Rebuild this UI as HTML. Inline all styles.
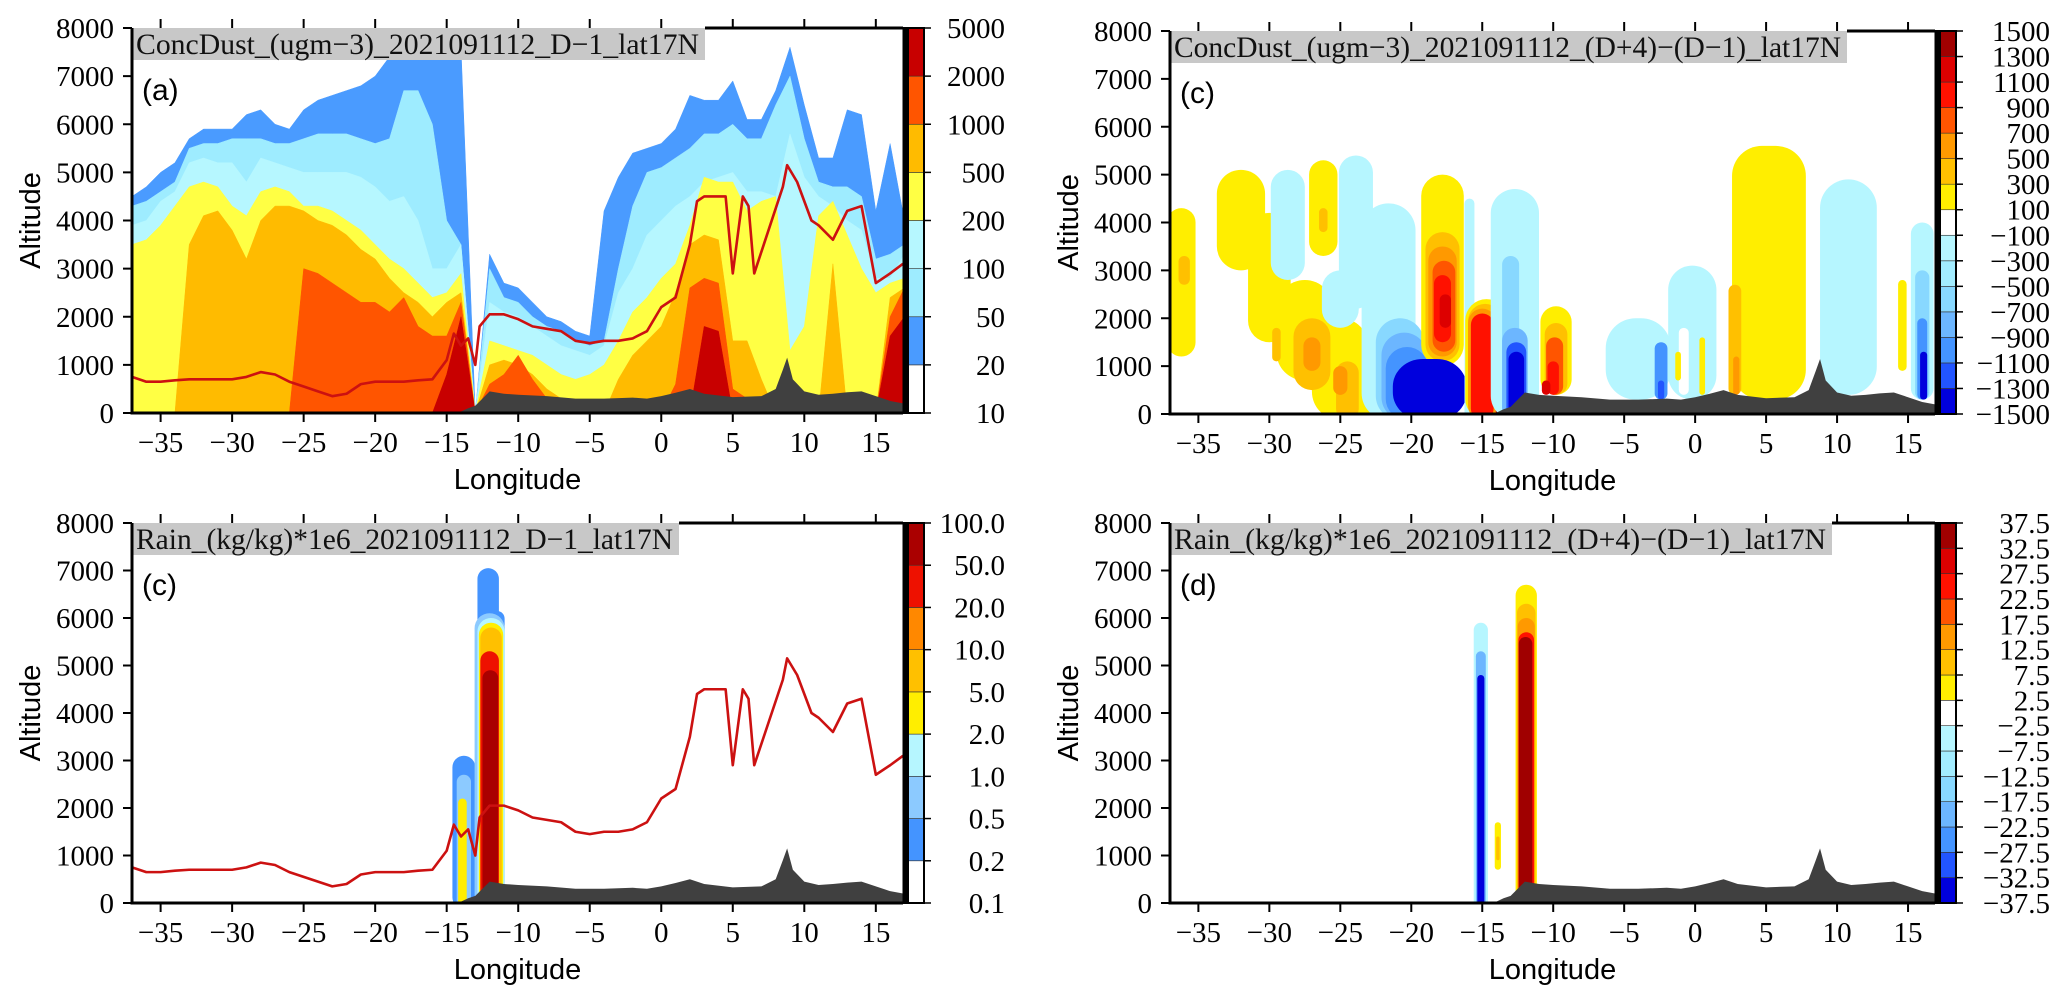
<!DOCTYPE html>
<html><head><meta charset="utf-8"><style>
html,body{margin:0;padding:0;background:#fff;}
svg{display:block;}
text{font-family:"Liberation Serif",serif;}
.sans{font-family:"Liberation Sans",sans-serif;}
</style></head><body>
<svg id="chart" width="2067" height="1006" viewBox="0 0 2067 1006" xmlns="http://www.w3.org/2000/svg"></svg>
<script>
// ---------------- DATA ----------------
const lonGrid=[-37,-36,-35,-34,-33,-32,-31,-30,-29,-28,-27,-26,-25,-24,-23,-22,-21,-20,-19,-18,-17,-16,-15,-14,-13,-12,-11,-10,-9,-8,-7,-6,-5,-4,-3,-2,-1,0,1,2,3,4,5,6,7,8,9,10,11,12,13,14,15,16,17];
// panel (a) dust: top altitude of region exceeding each threshold
const dustLevels=[20,50,100,200,500,1000,2000];
const dustTop20=[4500,4700,5000,5200,5700,5900,5900,5900,6200,6300,6000,5900,6300,6500,6600,6700,6800,7000,7400,7600,7600,7600,7600,7600,0,3300,2700,2600,2300,2000,1900,1700,1600,4200,4900,5400,5500,5600,5900,6600,6500,6500,6900,6100,6100,6700,7600,6400,5300,5300,6300,6200,4200,5600,4000];
const dustTop50=[4300,4400,4600,4800,5500,5600,5600,5700,5700,5700,5600,5600,5700,5800,5800,5800,5700,5600,5700,6700,6700,6000,4000,3500,0,3000,2400,2300,2000,1800,1700,1500,1400,1500,3000,4300,5000,5100,5300,5500,5800,5800,6000,5700,5700,6400,7000,5700,4800,4700,4700,4500,3200,3300,3500];
const dustTop100=[3900,4000,4400,4600,5200,5300,5200,5200,4800,5300,5200,5100,5000,5000,5000,5000,4900,4700,4400,4500,4000,3000,3000,3500,0,2300,2100,2000,1800,1600,1400,1300,1200,1400,2500,3000,3700,4000,4300,4500,4800,4900,5000,4600,4600,4500,5800,4900,4500,4300,4000,3800,2800,2800,3300];
const dustTop200=[3500,3600,3900,4300,4700,4800,4700,4300,4100,4600,4700,4600,4300,4300,4200,4000,3800,3500,3200,3000,2700,2400,2500,2900,0,1500,1400,1300,1200,1000,800,700,800,1000,1500,2100,2400,2800,3100,3900,4900,4800,4800,4200,4400,4500,1300,1800,4100,4400,3700,3000,2500,2700,2800];
const dustTop500=[0,0,0,0,3500,4100,4200,3800,3200,4000,4300,4300,4200,4000,3900,3700,3400,3200,2800,2500,2300,2000,2300,2500,0,1000,1100,1000,800,500,300,0,0,0,700,1200,1500,1800,2500,3500,3700,3600,1500,1500,700,0,0,0,0,3100,0,0,0,2400,2600];
const dustTop1000=[0,0,0,0,0,0,0,0,0,0,0,0,3000,2900,2700,2500,2300,2300,2100,2400,1800,1600,1600,2300,0,600,800,1200,700,300,0,0,0,0,0,0,0,0,600,2600,2800,2700,500,300,0,0,0,0,0,0,0,0,0,2000,2600];
const dustTop2000=[0,0,0,0,0,0,0,0,0,0,0,0,0,0,0,0,0,0,0,0,0,0,800,2000,0,300,0,0,200,0,0,0,0,0,0,0,0,0,0,0,1800,1700,0,0,0,0,0,0,0,0,0,0,0,1600,2000];
const dustBandColors=['#4a9bff','#9eecff','#b6f7ff','#ffff44','#ffbb00','#ff5500','#c80000'];
// terrain
const terrLon=[-37,-15,-14,-13.5,-13,-12.5,-12,-11,-10,-8,-6,-4,-2,-1,0,1,2,3,5,7,8,8.5,8.8,9.2,10,11,12,13,14,15,16,16.9];
const terrAlt=[0,0,30,100,150,300,450,400,380,350,300,300,320,300,350,420,500,400,330,350,500,900,1150,700,450,380,400,430,450,350,250,200];
// boundary layer height (red line)
const blhLon=[-37,-36,-35,-34,-33,-32,-31,-30,-29,-28,-27,-26,-25,-24,-23,-22,-21,-20,-19,-18,-17,-16,-15,-14.5,-14,-13.5,-13,-12.7,-12,-11,-10,-9,-8,-7,-6,-5,-4,-3,-2,-1,0,1,2,2.5,3,4,4.5,5,5.7,6.1,6.5,8.5,8.8,9.5,10.5,11,12,13,14,15,16,16.9];
const blhAlt=[750,650,650,680,700,700,700,700,750,850,800,650,550,450,350,400,600,650,650,650,680,700,1100,1650,1400,1550,1000,1800,2050,2050,1950,1800,1750,1700,1500,1450,1500,1500,1550,1700,2200,2400,3500,4400,4500,4500,4500,2900,4500,4300,2900,4700,5150,4800,4000,3900,3600,4200,4300,2700,2900,3100];
// panel (c) dust difference blobs: centre lon, half-width (deg), bottom alt, top alt, value
const diffLon=[-36.2,-32,-30,-27.5,-25,-23.5,-36,-29.5,-27,-24.5,-27,-25,-28.7,-26.2,-26.2,-23.9,-25,-21.6,-20.8,-20.5,-20.3,-17.8,-17.8,-17.8,-17.7,-17.8,-17.6,-18.7,-15.9,-14.7,-14.8,-15,-15,-13.7,-12.7,-13,-12.7,-12.6,-12.6,-9.8,-9.8,-9.9,-10,-10.5,-4,-0.2,-2.4,-2.4,-0.8,-1.2,0.5,5.2,2.8,2.9,10.8,14.6,16,16,16,16.1];
const diffHW=[1.0,1.7,1.5,2.0,2.0,1.0,0.4,0.3,1.3,0.8,0.6,0.5,1.2,1.0,0.3,1.2,1.3,1.9,1.7,1.6,1.5,1.5,1.2,1.0,0.8,0.6,0.4,2.6,0.35,1.5,1.2,1.0,0.8,0.35,1.7,0.6,0.9,0.7,0.55,1.1,0.8,0.6,0.4,0.3,2.3,1.7,0.45,0.22,0.35,0.2,0.2,2.6,0.45,0.22,2.0,0.3,0.8,0.5,0.35,0.25];
const diffBot=[1200,3000,1500,700,0,0,2700,1100,500,0,900,400,2800,3300,3800,2200,1800,0,0,0,0,1000,1100,1200,1300,1500,1800,0,0,0,0,0,0,0,0,0,0,0,0,400,400,400,400,400,300,300,300,300,400,700,400,300,400,400,400,900,300,300,300,300];
const diffTop=[4300,5100,4200,2800,2000,1500,3300,1800,2000,1100,1600,1000,5100,5300,4300,5400,3000,4400,2000,1700,1400,5000,3800,3500,3200,2900,2500,1150,4500,2400,2300,2200,2100,2200,4700,3300,1800,1500,1300,2250,1900,1600,1100,700,2000,3100,1500,700,1800,1300,1600,5600,2700,1200,4900,2800,4000,3000,2000,1300];
const diffVal=[200,200,200,200,200,200,400,400,400,400,600,600,-200,200,400,-200,-200,-200,-600,-800,-1000,200,400,600,800,1000,1200,-1400,-200,200,400,600,1000,1400,-200,-600,-800,-1200,-1400,200,400,800,1000,1200,-200,-200,-1000,-1200,0,200,200,200,400,600,-200,200,-200,-600,-1000,-1400];
const diffLevels=[-1500,-1300,-1100,-900,-700,-500,-300,-100,100,300,500,700,900,1100,1300,1500];
const diffColors=['#0000dd','#2255ff','#4494ff','#6cb6ff','#88d8ff','#a2ecff','#b6f6ff','#ffffff','#ffee00','#ffc000','#ff9900','#ff5500','#ff1100','#dd0000','#a00000'];
// panel (c) rain columns
const rainLon=[-13.8,-13.8,-13.9,-12.1,-11.5,-12.0,-11.9,-11.9,-11.9,-12.0,-11.95];
const rainHW=[0.8,0.5,0.3,0.75,0.55,1.05,0.95,0.85,0.75,0.65,0.55];
const rainBot=[0,0,0,0,0,0,0,0,0,0,0];
const rainTop=[3100,2700,2200,7050,6150,6100,6000,5900,5800,5300,4900];
const rainVal=[0.3,0.7,3,0.3,0.3,0.7,1.5,3,7,30,70];
const rainLevels=[0.1,0.2,0.5,1.0,2.0,5.0,10.0,20.0,50.0,100.0];
const rainColors=['#ffffff','#4494ff','#8ccaff','#b6f6ff','#ffee00','#ffc000','#ff8800','#ee1100','#aa0000'];
// panel (d) rain difference columns
const rdLon=[-15.1,-15.1,-15.1,-13.9,-13.9,-11.9,-11.9,-11.9,-11.9,-11.95];
const rdHW=[0.5,0.35,0.25,0.22,0.12,0.75,0.65,0.6,0.55,0.48];
const rdBot=[0,0,0,700,900,0,0,0,0,0];
const rdTop=[5900,5300,4800,1700,1400,6700,6300,6000,5700,5600];
const rdVal=[-5,-20,-35,5,10,5,10,15,25,35];
const rdLevels=[-37.5,-32.5,-27.5,-22.5,-17.5,-12.5,-7.5,-2.5,2.5,7.5,12.5,17.5,22.5,27.5,32.5,37.5];
const altTicks=[0,1000,2000,3000,4000,5000,6000,7000,8000];
const lonTicks=[-35,-30,-25,-20,-15,-10,-5,0,5,10,15];
const dustCbLabels=['10','20','50','100','200','500','1000','2000','5000'];
const dustCbColors=['#ffffff','#4a9bff','#9eecff','#b6f7ff','#ffff44','#ffbb00','#ff5500','#c80000'];

// ---------------- RENDER ----------------
const NS='http://www.w3.org/2000/svg';
const svg=document.getElementById('chart');
function mk(tag,attrs,parent){const e=document.createElementNS(NS,tag);for(const k in attrs)e.setAttribute(k,attrs[k]);(parent||svg).appendChild(e);return e;}
const LON0=-37, LON1=16.9;
function mkX(P){return lon=>P.x0+(lon-LON0)/(LON1-LON0)*(P.x1-P.x0);}
function mkY(P){return alt=>P.y1-alt/8000*(P.y1-P.y0);}
function colorFor(v,levels,colors){for(let i=0;i<colors.length;i++){if(v>=levels[i]&&v<levels[i+1])return colors[i];}return v<levels[0]?colors[0]:colors[colors.length-1];}

const panels={
 a:{x0:132,x1:903,y0:28,y1:413},
 c:{x0:1170,x1:1935,y0:31,y1:414},
 r:{x0:132,x1:903,y0:523,y1:903},
 d:{x0:1170,x1:1935,y0:523,y1:903}
};
let clipN=0;
function panelGroup(P,name){
 const g=mk('g',{});
 
 
 const id='clip'+(clipN++);
 const cp=mk('clipPath',{id:id},g);
 mk('rect',{x:P.x0,y:P.y0,width:P.x1-P.x0,height:P.y1-P.y0},cp);
 const inner=mk('g',{'clip-path':'url(#'+id+')'},g);
 
 
 return {g,inner};
}
function drawTerrain(P,parent){
 const X=mkX(P),Y=mkY(P);
 let pts=terrLon.map((l,i)=>X(l)+','+Y(terrAlt[i]));
 pts.push(X(LON1)+','+(P.y1+2));pts.push(X(LON0)+','+(P.y1+2));
 const t=mk('polygon',{points:pts.join(' '),fill:'#404040'},parent);
 
 
}
function drawBLH(P,parent){
 const X=mkX(P),Y=mkY(P);
 const l=mk('polyline',{points:blhLon.map((v,i)=>X(v)+','+Y(blhAlt[i])).join(' '),fill:'none',stroke:'#cc1111','stroke-width':2.6,'stroke-linejoin':'round'},parent);
 
 
}
function drawBlobs(P,parent,lons,hws,bots,tops,vals,levels,colors,nm){
 const X=mkX(P),Y=mkY(P);
 for(let i=0;i<lons.length;i++){
  const x0=X(lons[i]-hws[i]),x1=X(lons[i]+hws[i]);
  const yt=Y(tops[i]),yb=Y(bots[i]);
  const w=x1-x0,h=yb-yt;
  const rx=Math.min(w/2,30), ry=Math.min(h/2,w*0.5,30);
  const r=mk('rect',{x:x0,y:yt,width:w,height:h+(bots[i]===0?6:0),rx:rx,ry:ry,fill:colorFor(vals[i],levels,colors)},parent);
  
  
 }
}
function drawFrame(P,g,opts){
 const X=mkX(P),Y=mkY(P);
 const tb=mk('rect',{x:P.x0,y:P.y0,width:opts.titleW,height:32,fill:'#c8c8c8'},g);
 
 
 const tt=mk('text',{x:P.x0+4,y:P.y0+26,'font-size':30,textLength:opts.titleW-10,lengthAdjust:'spacingAndGlyphs',fill:'#111'},g);
 tt.textContent=opts.title;
 
 
 const pl=mk('text',{x:P.x0+10,y:P.y0+72,'font-size':30,class:'sans',fill:'#000'},g);
 pl.textContent=opts.tag;
 
 
 const fr=mk('path',{d:`M${P.x0},${P.y0} L${P.x0},${P.y1} L${P.x1},${P.y1}`,fill:'none',stroke:'#000','stroke-width':3},g);
 
 
 const tf=mk('line',{x1:P.x0+opts.titleW,y1:P.y0,x2:P.x1,y2:P.y0,stroke:'#000','stroke-width':3},g);
 
 
 const rf=mk('line',{x1:P.x1+2,y1:P.y0-1,x2:P.x1+2,y2:P.y1+1,stroke:'#000','stroke-width':5},g);
 
 
 altTicks.forEach(a=>{
  const tk=mk('line',{x1:P.x0-9,y1:Y(a),x2:P.x0,y2:Y(a),stroke:'#000','stroke-width':2},g);
  
  
  const tl=mk('text',{x:P.x0-18,y:Y(a)+10,'font-size':29,'text-anchor':'end'},g);
  tl.textContent=String(a);
  
  
 });
 lonTicks.forEach(l=>{
  const tk=mk('line',{x1:X(l),y1:P.y1,x2:X(l),y2:P.y1+9,stroke:'#000','stroke-width':2},g);
  
  
  const tk2=mk('line',{x1:X(l),y1:P.y0-9,x2:X(l),y2:P.y0,stroke:'#000','stroke-width':2},g);
  
  
  const tl=mk('text',{x:X(l),y:P.y1+39,'font-size':29,'text-anchor':'middle'},g);
  tl.textContent=(l<0?'\u2212'+(-l):String(l));
  
  
 });
 const xl=mk('text',{x:(P.x0+P.x1)/2,y:P.y1+76,'font-size':29,class:'sans','text-anchor':'middle'},g);
 xl.textContent='Longitude';
 
 
 const yx=P.x0-92, yy=(P.y0+P.y1)/2;
 const yl=mk('text',{x:yx,y:yy,'font-size':29,class:'sans','text-anchor':'middle',transform:`rotate(-90 ${yx} ${yy})`},g);
 yl.textContent='Altitude';
 
 
 const cb=mk('g',{},g);
 
 
 const cx0=P.x1+5,cx1=P.x1+21,n=opts.cbColors.length,seg=(P.y1-P.y0)/n;
 opts.cbColors.forEach((c,i)=>{
  const r=mk('rect',{x:cx0,y:P.y1-(i+1)*seg,width:cx1-cx0,height:seg,fill:c,stroke:'#333','stroke-width':0.6},cb);
  
  
 });
 const ob=mk('rect',{x:cx0,y:P.y0,width:cx1-cx0,height:P.y1-P.y0,fill:'none',stroke:'#000','stroke-width':2},cb);
 
 
 opts.cbLabels.forEach((s,i)=>{
  const yy2=P.y1-i*seg;
  const tk=mk('line',{x1:cx1,y1:yy2,x2:cx1+7,y2:yy2,stroke:'#000','stroke-width':1.5},cb);
  
  
  const t=mk('text',{x:opts.cbLabelX,y:yy2+10,'font-size':29,'text-anchor':'end'},cb);
  t.textContent=s;
  
  
 });
}
function fmt(v){return v<0?'\u2212'+(-v):String(v);}

// Panel (a)
(function(){
 const P=panels.a,X=mkX(P),Y=mkY(P);
 const {g,inner}=panelGroup(P,'panel-a-dust');
 const tops=[dustTop20,dustTop50,dustTop100,dustTop200,dustTop500,dustTop1000,dustTop2000];
 tops.forEach((arr,k)=>{
  let pts=lonGrid.map((l,i)=>X(l)+','+Y(arr[i]));
  pts.push(X(17)+','+Y(0));pts.push(X(-37)+','+Y(0));
  const p=mk('polygon',{points:pts.join(' '),fill:dustBandColors[k],'stroke':dustBandColors[k],'stroke-width':0.5},inner);
  
  
 });
 drawTerrain(P,inner);drawBLH(P,inner);
 drawFrame(P,g,{title:'ConcDust_(ugm\u22123)_2021091112_D\u22121_lat17N',titleW:573,tag:'(a)',cbColors:dustCbColors,cbLabels:dustCbLabels,cbLabelX:1005});
})();
// Panel (c) top-right
(function(){
 const P=panels.c;
 const {g,inner}=panelGroup(P,'panel-c-dust-diff');
 drawBlobs(P,inner,diffLon,diffHW,diffBot,diffTop,diffVal,diffLevels,diffColors,'diff-blob');
 drawTerrain(P,inner);
 drawFrame(P,g,{title:'ConcDust_(ugm\u22123)_2021091112_(D+4)\u2212(D\u22121)_lat17N',titleW:677,tag:'(c)',cbColors:diffColors,cbLabels:diffLevels.map(fmt),cbLabelX:2050});
})();
// Panel (c) bottom-left rain
(function(){
 const P=panels.r;
 const {g,inner}=panelGroup(P,'panel-c-rain');
 drawBlobs(P,inner,rainLon,rainHW,rainBot,rainTop,rainVal,rainLevels,rainColors,'rain-column');
 drawTerrain(P,inner);drawBLH(P,inner);
 drawFrame(P,g,{title:'Rain_(kg/kg)*1e6_2021091112_D\u22121_lat17N',titleW:547,tag:'(c)',cbColors:rainColors,cbLabels:rainLevels.map(v=>v.toFixed(1)),cbLabelX:1005});
})();
// Panel (d)
(function(){
 const P=panels.d;
 const {g,inner}=panelGroup(P,'panel-d-rain-diff');
 drawBlobs(P,inner,rdLon,rdHW,rdBot,rdTop,rdVal,rdLevels,diffColors,'rain-diff-column');
 drawTerrain(P,inner);
 drawFrame(P,g,{title:'Rain_(kg/kg)*1e6_2021091112_(D+4)\u2212(D\u22121)_lat17N',titleW:662,tag:'(d)',cbColors:diffColors,cbLabels:rdLevels.map(fmt),cbLabelX:2050});
})();
</script>
</body></html>
